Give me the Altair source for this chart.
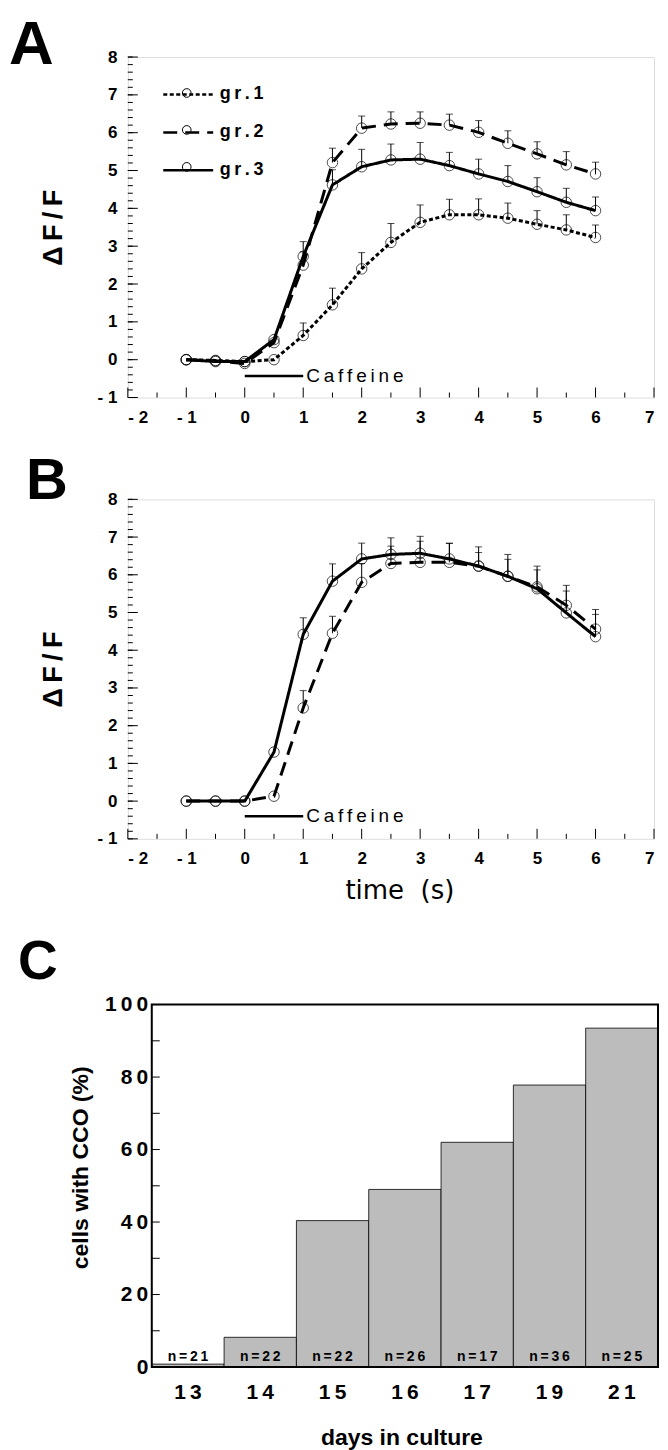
import altair as alt
import pandas as pd

THIN = "\u2009"

# ---------------- data ----------------
time_s = [-1, -0.5, 0, 0.5, 1, 1.5, 2, 2.5, 3, 3.5, 4, 4.5, 5, 5.5, 6]

# Panel A
a_groups = ["gr.1", "gr.2", "gr.3"]
a_gr1 = [0.0, -0.02, -0.05, 0.0, 0.64, 1.45, 2.40, 3.10, 3.63, 3.83, 3.83, 3.74, 3.58, 3.43, 3.23]
a_gr1_sem = [0, 0, 0, 0, 0.33, 0.44, 0.43, 0.50, 0.46, 0.41, 0.42, 0.40, 0.36, 0.40, 0.33]
a_gr2 = [0.0, -0.03, -0.10, 0.45, 2.50, 5.21, 6.12, 6.23, 6.25, 6.20, 6.01, 5.72, 5.44, 5.15, 4.91]
a_gr2_sem = [0, 0, 0, 0, 0.35, 0.38, 0.32, 0.32, 0.30, 0.29, 0.31, 0.33, 0.32, 0.35, 0.31]
a_gr3 = [0.0, -0.05, -0.05, 0.53, 2.73, 4.62, 5.10, 5.28, 5.30, 5.13, 4.91, 4.71, 4.44, 4.16, 3.94]
a_gr3_sem = [0, 0, 0, 0, 0.39, 0.40, 0.46, 0.42, 0.44, 0.35, 0.39, 0.42, 0.37, 0.37, 0.36]

# Panel B
b_groups = ["solid", "dashed"]
b_solid = [0.0, 0.0, 0.0, 1.30, 4.42, 5.83, 6.42, 6.54, 6.57, 6.42, 6.23, 5.96, 5.63, 4.99, 4.36]
b_solid_sem = [0, 0, 0, 0, 0.44, 0.46, 0.42, 0.44, 0.45, 0.42, 0.51, 0.58, 0.60, 0.73, 0.72]
b_dashed = [0.0, 0.0, 0.0, 0.13, 2.47, 4.45, 5.80, 6.30, 6.33, 6.33, 6.23, 5.96, 5.68, 5.19, 4.56]
b_dashed_sem = [0, 0, 0, 0, 0.46, 0.45, 0.50, 0.46, 0.56, 0.50, 0.36, 0.45, 0.45, 0.38, 0.39]

# Caffeine application bar
caf_label = "Caffeine"
caf_start, caf_end = 0, 1
caf_level_a = -0.43
caf_level_b = -0.40

# axis tick lists (A, B)
x_major = [-2, -1, 0, 1, 2, 3, 4, 5, 6, 7]
x_minor = [-1.5, -0.5, 0.5, 1.5, 2.5, 3.5, 4.5, 5.5, 6.5]
y_major = [-1, 0, 1, 2, 3, 4, 5, 6, 7, 8]
y_minor = [round(-1 + 0.2 * k, 1) for k in range(46)]

# Panel C
days = ["13", "14", "15", "16", "17", "19", "21"]
pct_cco = [0.8, 8.2, 40.4, 49.0, 62.0, 77.8, 93.5]
n_cells = ["n=21", "n=22", "n=22", "n=26", "n=17", "n=36", "n=25"]
c_major = [0, 20, 40, 60, 80, 100]
c_ticks = [0, 10, 20, 30, 40, 50, 60, 70, 80, 90, 100]

panel_letters = ["A", "B", "C"]

# ---------------- helpers ----------------
LAB = "Liberation Sans"
NEG = "datum.value < 0 ? '- ' + abs(datum.value) : datum.label"
SPACED = "join(split(datum.label, ''), '" + THIN + "')"

W_AB = 527
C_INSET = 24
W_C = 531
H_C = 363


def long_df(series, sems, names):
    rows = []
    for name, vals, ss in zip(names, series, sems):
        for t, v, s in zip(time_s, vals, ss):
            rows.append({"t": t, "v": v, "up": v + s, "sem": s, "g": name})
    return pd.DataFrame(rows)


def letter_layer(letter, size, dx, dy):
    return alt.Chart(pd.DataFrame({"L": [letter]})).mark_text(
        align="left", baseline="alphabetic", font=LAB, fontSize=size,
        fontWeight="bold", color="black").encode(
        x=alt.value(dx), y=alt.value(dy), text="L:N")


def line_panel(df, names, dashes, legend, letter, letter_size, letter_dx,
               letter_dy, width, height, caf_level, xtitle):
    xs = alt.Scale(domain=[-2, 7], nice=False, zero=False)
    ys = alt.Scale(domain=[-1, 8], nice=False, zero=False)

    xaxis_kw = dict(values=x_major, labelExpr=NEG, ticks=False, domain=False,
                    grid=False, labelFont=LAB, labelFontSize=17,
                    labelFontWeight="bold", labelPadding=12, labelColor="black")
    if xtitle:
        xaxis = alt.Axis(title=xtitle, titleFont="DejaVu Sans", titleFontSize=26,
                         titleFontWeight="normal", titlePadding=11, titleX=272,
                         titleColor="black", **xaxis_kw)
    else:
        xaxis = alt.Axis(title=None, **xaxis_kw)
    yaxis = alt.Axis(values=y_major, labelExpr=NEG, ticks=False, domain=False,
                     grid=False, labelFont=LAB, labelFontSize=17,
                     labelFontWeight="bold", labelPadding=11, labelColor="black",
                     title=THIN.join("ΔF/F"), titleFont=LAB, titleFontSize=27,
                     titleFontWeight="bold", titlePadding=30, titleColor="black")

    X = lambda f: alt.X(f, scale=xs, axis=xaxis)
    Y = lambda f: alt.Y(f, scale=ys, axis=yaxis)

    layers = []
    if legend:
        dash_legend = alt.Legend(orient="none", legendX=49, legendY=26, title=None,
                                 symbolType="M-2.5,0H2.5", symbolSize=400,
                                 symbolStrokeWidth=2.5, symbolStrokeColor="black",
                                 labelFont=LAB, labelFontSize=18,
                                 labelFontWeight="bold", labelColor="black",
                                 labelOffset=20, rowPadding=17, padding=0,
                                 labelExpr=SPACED)
        # open circles drawn on the legend line samples
        for i, name in enumerate(names):
            layers.append(
                alt.Chart(pd.DataFrame({"g": [name]})).mark_point(
                    shape="circle", filled=False, size=75, color="black",
                    strokeWidth=1, fill="white", fillOpacity=1).encode(
                    x=alt.value(59), y=alt.value(36 + 37 * i)))
    else:
        dash_legend = None

    base = alt.Chart(df)
    lines = base.mark_line(color="black", strokeWidth=3).encode(
        x=X("t:Q"), y=Y("v:Q"),
        strokeDash=alt.StrokeDash("g:N", scale=alt.Scale(domain=names, range=dashes),
                                  legend=dash_legend),
        detail="g:N",
    )
    err = base.transform_filter("datum.sem > 0")
    err_rule = err.mark_rule(color="black", strokeWidth=1).encode(
        x=X("t:Q"), y=Y("v:Q"), y2="up:Q")
    err_cap = err.mark_tick(color="black", orient="horizontal", size=7,
                            thickness=1).encode(x=X("t:Q"), y=Y("up:Q"))
    pts = base.mark_point(shape="circle", filled=False, size=110, color="black",
                          strokeWidth=1).encode(x=X("t:Q"), y=Y("v:Q"))

    caf_df = pd.DataFrame({"a": [caf_start], "b": [caf_end], "y": [caf_level],
                           "lab": [THIN.join(caf_label)]})
    caf_rule = alt.Chart(caf_df).mark_rule(color="black", strokeWidth=2.5).encode(
        x=X("a:Q"), x2="b:Q", y=Y("y:Q"))
    caf_text = alt.Chart(caf_df).mark_text(align="left", baseline="middle", dx=3,
                                           font=LAB, fontSize=19, color="black").encode(
        x=X("b:Q"), y=Y("y:Q"), text="lab:N")

    ymaj = alt.Chart(pd.DataFrame({"v": y_major})).mark_rule(color="black", strokeWidth=1).encode(
        y=Y("v:Q"), x=alt.value(0), x2=alt.value(10))
    ymin = alt.Chart(pd.DataFrame({"v": y_minor})).mark_rule(color="black", strokeWidth=1).encode(
        y=Y("v:Q"), x=alt.value(0), x2=alt.value(5))
    xmaj = alt.Chart(pd.DataFrame({"v": x_major})).mark_rule(color="black", strokeWidth=1).encode(
        x=X("v:Q"), y=alt.value(height), y2=alt.value(height - 10))
    xmin = alt.Chart(pd.DataFrame({"v": x_minor})).mark_rule(color="black", strokeWidth=1).encode(
        x=X("v:Q"), y=alt.value(height), y2=alt.value(height - 5))

    lett = letter_layer(letter, letter_size, letter_dx, letter_dy)

    return alt.layer(lines, ymaj, ymin, xmaj, xmin, caf_rule, caf_text,
                     err_rule, err_cap, pts, *layers, lett).properties(
        width=width, height=height)


df_a = long_df([a_gr1, a_gr2, a_gr3], [a_gr1_sem, a_gr2_sem, a_gr3_sem], a_groups)
df_b = long_df([b_solid, b_dashed], [b_solid_sem, b_dashed_sem], b_groups)

panel_a = line_panel(df_a, a_groups, [[4, 2.5], [14, 8], [1, 0]], True,
                     panel_letters[0], 62, -119, 7, W_AB, 341, caf_level_a, None)
panel_b = line_panel(df_b, b_groups, [[1, 0], [14, 8]], False,
                     panel_letters[1], 58, -102, 0, W_AB, 340, caf_level_b,
                     "time" + "\u00a0\u00a0" + "(s)")

# ---------------- Panel C ----------------
df_c = pd.DataFrame({"day": days, "pct": pct_cco,
                     "n": [THIN.join(s) for s in n_cells]})
xc = alt.Scale(domain=days, paddingInner=0, paddingOuter=0, range=[C_INSET, W_C])
yc = alt.Scale(domain=[0, 100], nice=False, zero=True)
xaxis_c = alt.Axis(labelAngle=0, ticks=False, domain=False, labelFont=LAB,
                   labelFontSize=21, labelFontWeight="bold", labelColor="black",
                   labelPadding=15, labelExpr=SPACED,
                   title="days in culture", titleFont=LAB, titleFontSize=23,
                   titleFontWeight="bold", titleColor="black", titlePadding=24,
                   titleX=274)
yaxis_c = alt.Axis(values=c_major, ticks=False, domain=False, grid=False,
                   offset=-C_INSET,
                   labelFont=LAB, labelFontSize=21, labelFontWeight="bold",
                   labelColor="black", labelPadding=4, labelExpr=SPACED,
                   title="cells with CCO (%)", titleFont=LAB, titleFontSize=23,
                   titleFontWeight="bold", titleColor="black", titlePadding=12,
                   titleY=163)

bars = alt.Chart(df_c).mark_bar(fill="#bcbcbc", stroke="black", strokeWidth=0.8).encode(
    x=alt.X("day:N", sort=days, scale=xc, axis=xaxis_c),
    y=alt.Y("pct:Q", scale=yc, axis=yaxis_c),
)
n_text = alt.Chart(df_c).mark_text(baseline="bottom", dy=-3, font=LAB, fontSize=14,
                                   fontWeight="bold", color="black").encode(
    x=alt.X("day:N", sort=days, scale=xc, axis=xaxis_c),
    y=alt.YDatum(0, scale=yc, axis=yaxis_c), text="n:N")
c_tick_rules = alt.Chart(pd.DataFrame({"v": c_ticks})).mark_rule(color="black", strokeWidth=1).encode(
    y=alt.Y("v:Q", scale=yc, axis=yaxis_c), x=alt.value(C_INSET), x2=alt.value(C_INSET + 8))
c_frame = alt.Chart(pd.DataFrame({"f": [0]})).mark_rect(
    fill="transparent", stroke="black", strokeWidth=2).encode(
    x=alt.value(C_INSET), x2=alt.value(W_C), y=alt.value(0), y2=alt.value(H_C))

panel_c = alt.layer(bars, c_tick_rules, n_text, c_frame,
                    letter_layer(panel_letters[2], 55, -110, -26)).properties(
    width=W_C, height=H_C, view=alt.ViewBackground(stroke="transparent"))

top_ab = alt.concat(panel_a, panel_b, columns=1, spacing=26).properties(
    align="none").resolve_scale(strokeDash="independent", x="independent",
                                y="independent")

chart = alt.concat(top_ab, panel_c, columns=1, spacing=29).properties(
    align="none",
    padding={"left": 0, "top": 4, "right": 0, "bottom": 0},
).resolve_scale(strokeDash="independent", x="independent", y="independent"
).configure_view(stroke="black", strokeWidth=2).configure(background="white")

chart.save("out.html", embed_options={"renderer": "svg", "actions": False})
